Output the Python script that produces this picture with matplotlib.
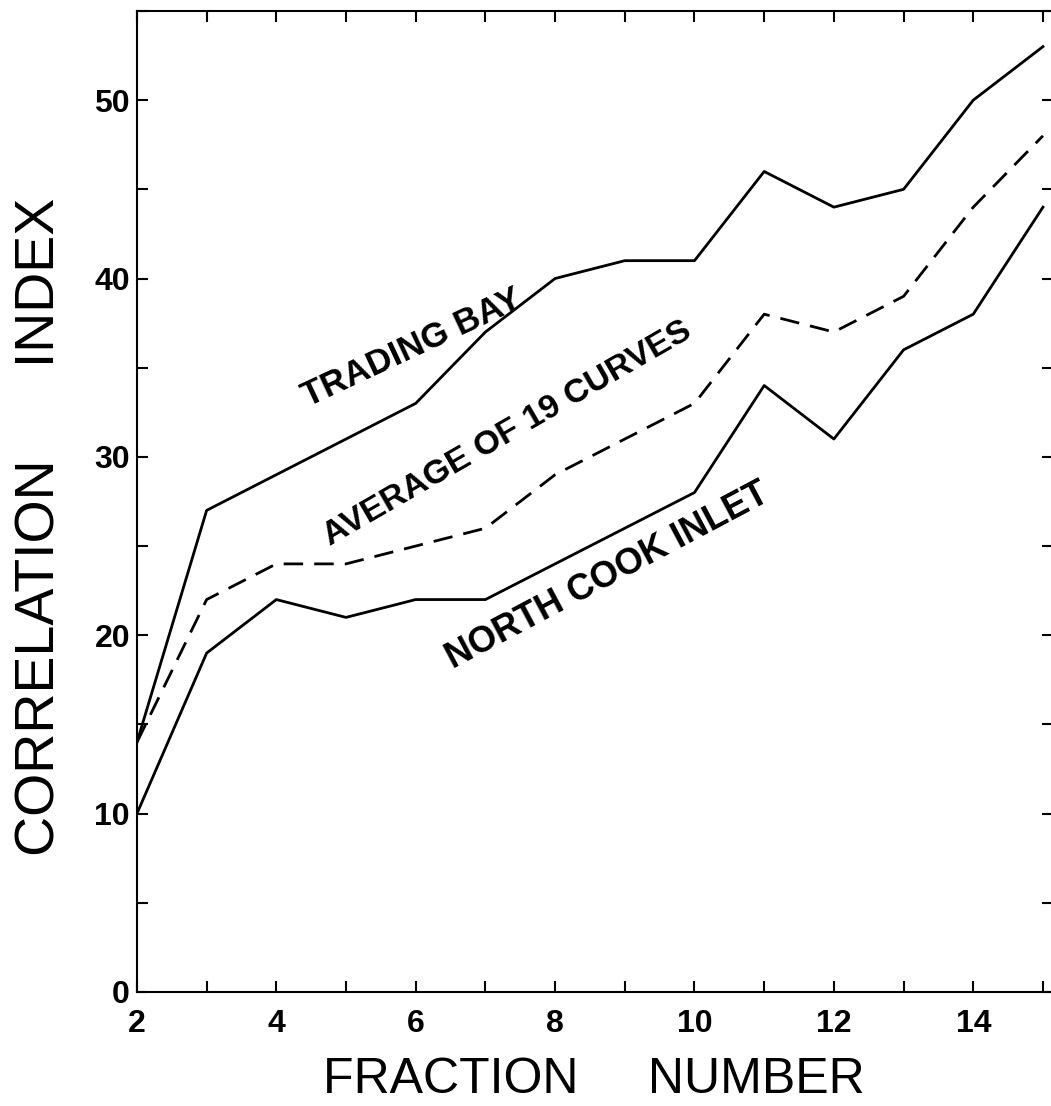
import numpy as np
import matplotlib
matplotlib.use("Agg")
import matplotlib.pyplot as plt
from matplotlib.ticker import MultipleLocator

# -------------------------- Data --------------------------
fraction    = [2, 3, 4, 5, 6, 7, 8, 9, 10, 11, 12, 13, 14, 15]
trading_bay = [14, 27, 29, 31, 33, 37, 40, 41, 41, 46, 44, 45, 50, 53]
average_19  = [14, 22, 24, 24, 25, 26, 29, 31, 33, 38, 37, 39, 44, 48]
north_cook  = [10, 19, 22, 21, 22, 22, 24, 26, 28, 34, 31, 36, 38, 44]

x_ticks = [2, 4, 6, 8, 10, 12, 14]
y_ticks = [0, 10, 20, 30, 40, 50]

plt.rcParams.update({
    "font.family": ["Liberation Sans", "DejaVu Sans"],
    "axes.linewidth": 1.5,
})

fig = plt.figure(figsize=(10.51, 11.06), dpi=100)
ax = fig.add_axes([0.1303, 0.1031, 0.872, 0.887])

ax.plot(fraction, trading_bay, color="black", lw=2.0)
ax.plot(fraction, north_cook, color="black", lw=2.0)
ln, = ax.plot(fraction, average_19, color="black", lw=2.0, ls="--")
ln.set_dashes([7, 4])

ax.set_xlim(2, 15.15)
ax.set_ylim(0, 55)

# ticks: inward on all four sides
ax.set_xticks(x_ticks)
ax.xaxis.set_minor_locator(MultipleLocator(1))
ax.set_yticks(y_ticks)
ax.yaxis.set_minor_locator(MultipleLocator(5))
ax.tick_params(which="both", direction="in", top=True, right=True,
               length=8, width=1.5)
ax.tick_params(axis="x", which="major", pad=12)
ax.tick_params(axis="y", which="major", pad=5)
for lab in ax.get_xticklabels() + ax.get_yticklabels():
    lab.set_fontsize(23)
    lab.set_fontweight("bold")

# curve labels
ax.text(5.95, 36.1, "TRADING BAY", rotation=25, fontsize=25, fontweight="bold",
        ha="center", va="center", rotation_mode="anchor")
ax.text(7.32, 31.3, "AVERAGE OF 19 CURVES", rotation=30, fontsize=24.5, fontweight="bold",
        ha="center", va="center", rotation_mode="anchor")
ax.text(8.76, 23.3, "NORTH COOK INLET", rotation=28, fontsize=26, fontweight="bold",
        ha="center", va="center", rotation_mode="anchor")

# axis titles
fig.text(594 / 1051, 1 - 1080 / 1106, "FRACTION     NUMBER", fontsize=36,
         ha="center", va="center")
fig.text(41 / 1051, 1 - 527 / 1106, "CORRELATION      INDEX", fontsize=40,
         rotation=90, ha="center", va="center")

fig.savefig("out.png", dpi=100)
